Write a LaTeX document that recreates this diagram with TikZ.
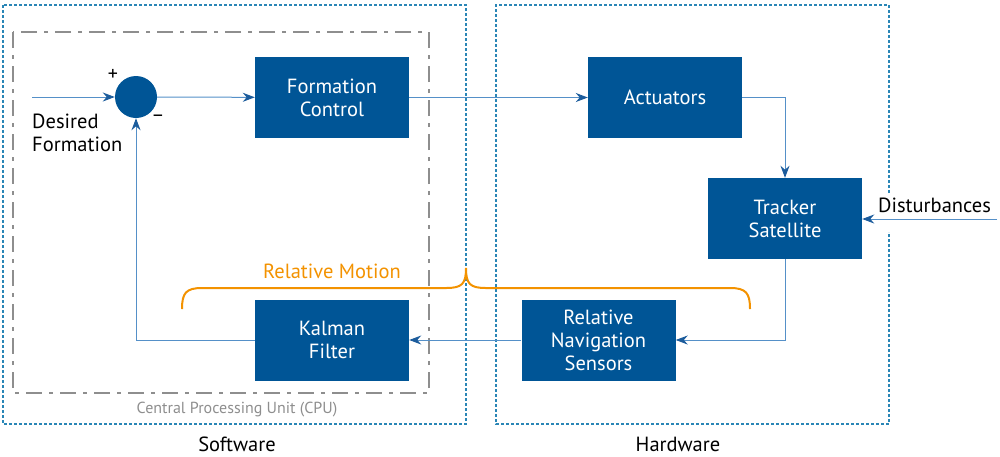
\documentclass[tikz,border=0pt]{standalone}
\usepackage{fontspec}
\setmainfont{PT Sans}
\usetikzlibrary{positioning,arrows.meta}

\definecolor{boxblue}{HTML}{005596}
\definecolor{lineblue}{HTML}{5590C8}
\definecolor{tipblue}{HTML}{1C5C9C}
\definecolor{frameblue}{HTML}{2A86B6}
\definecolor{motionorange}{HTML}{F39200}
\definecolor{cpugray}{HTML}{8E8E8E}

\begin{document}
\begin{tikzpicture}[x=1pt,y=-1pt]
          \tikzset{block/.style={fill=boxblue, text=white, minimum width=154pt, minimum height=81pt,
                   inner sep=0pt, align=center, font=\fontsize{20.5}{23}\selectfont}}
          \tikzset{sumnode/.style={circle, fill=boxblue, minimum size=42pt, inner sep=0pt}}
          \tikzset{link/.style={draw=lineblue, line width=1pt, -{Stealth[length=12pt,width=9pt,color=tipblue]}}}
          \tikzset{frame/.style={draw=frameblue, line width=1.3pt, dash pattern=on 3pt off 2pt}}
          \tikzset{cpuframe/.style={draw=cpugray, line width=1.1pt, dash pattern=on 16pt off 7pt on 4pt off 7pt}}
          \tikzset{plain/.style={font=\fontsize{20.5}{23}\selectfont, inner sep=0pt}}

          \useasboundingbox (0,0) rectangle (1000,456);

          % frames
          \draw[frame] (3,5) rectangle (466,424);
          \draw[frame] (889,193) -- (889,5) -- (496,5) -- (496,424) -- (889,424) -- (889,232);
          \draw[cpuframe] (13,32) rectangle (429,393);

          % blocks
          \node[sumnode] (sum) at (136,97) {};
          \node[block] (ctrl) at (332,97.5) {Formation\\Control};
          \node[block] (act) at (665,97.5) {Actuators};
          \node[block] (sat) at (785,218.5) {Tracker\\Satellite};
          \node[block] (nav) at (598.5,340) {Relative\\Navigation\\Sensors};
          \node[block] (kal) at (332,340) {Kalman\\Filter};

          % labels
          \coordinate (in) at (32,97);
          \coordinate (dist) at (997,219);
          \node[plain, anchor=north west, align=left] (desired) at (32,114) {Desired\\Formation};
          \node[font=\fontsize{20}{22}\selectfont, inner sep=0pt] (plus) at (113,75) {+};
          \node[font=\fontsize{20}{22}\selectfont, inner sep=0pt] (minus) at (158,118) {–};
          \node[plain, anchor=west] (distlbl) at (878,205) {Disturbances};
          \node[plain, text=motionorange] (motion) at (332,271) {Relative Motion};
          \node[font=\fontsize{16}{18}\selectfont, text=cpugray] (cpu) at (237,410) {Central Processing Unit (CPU)};
          \node[plain] (sw) at (237,444) {Software};
          \node[plain] (hw) at (678,444) {Hardware};

          % connectors
          \draw[link] (in) -- (sum);
          \draw[link] (sum) -- (ctrl);
          \draw[link] (ctrl) -- (act);
          \draw[link] (act) -| (sat);
          \draw[link] (sat) |- (nav);
          \draw[link] (nav) -- (kal);
          \draw[link] (kal) -| (sum);
          \draw[link] (dist) -- (dist -| sat.east);

          % brace
          \draw[motionorange, line width=2pt] (182,309) .. controls (182,293) and (186,288) .. (202,288)
            -- (446,288) .. controls (462,288) and (466,284) .. (466,268)
            .. controls (466,284) and (470,288) .. (486,288)
            -- (730,288) .. controls (746,288) and (750,293) .. (750,309);
        \end{tikzpicture}
\end{document}
